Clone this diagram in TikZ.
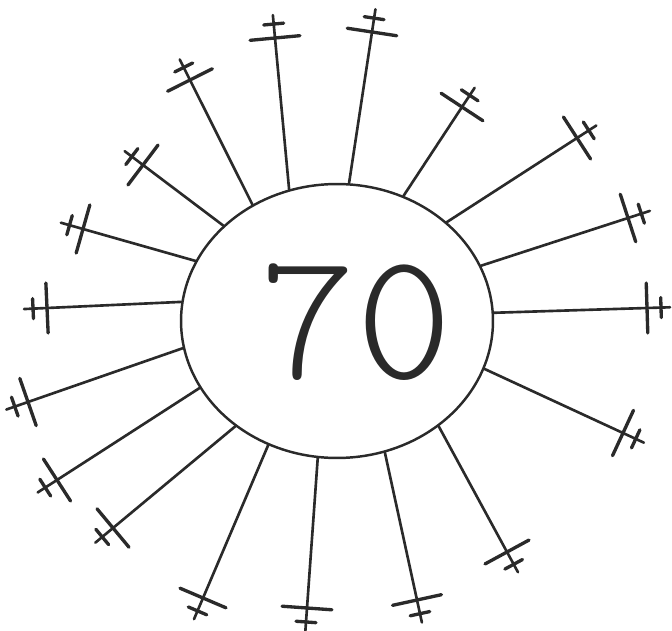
\documentclass[tikz,border=0pt]{standalone}
\usepackage{tikz}
\usetikzlibrary{calc,shapes.geometric}
\definecolor{ink}{HTML}{2A2A2A}

\begin{document}
\begin{tikzpicture}[x=0.02cm,y=-0.02cm,line cap=round,
  spoke/.style={draw=ink,line width=1.5pt},
  bar/.style={draw=ink,line width=1.9pt}]
\useasboundingbox (0,0) rectangle (672,631);
% the round face and the number
\node[ellipse,draw=ink,line width=1.4pt,minimum width=6.24cm,minimum height=5.48cm,inner sep=0pt] (sun) at (337,321) {};
\node[text=ink,font=\ttfamily\fontseries{l}\fontsize{104}{104}\selectfont] (age) at (356,322) {70};
% rays with a cross at each end
\foreach \i/\a/\x/\y in {1/110/275/38,2/85/372/32,3/62/462/107,4/42/577/138,5/21/628/218,6/3/647/308,
  7/-18/623/433,8/-46/507/552,9/-70/417/600,10/-98/307/608,11/-119/203/598,12/-134/113/528,
  13/-154/57/480,14/-170/28/402,15/173/47/308,16/157/83/229,17/140/143/165,18/126/190/80} {
  \coordinate (tip\i) at (\x,\y);
  \coordinate (knot\i) at ($(tip\i)!-0.28cm!(sun.\a)$);
  \draw[spoke] (sun.\a) -- (tip\i) -- ($(tip\i)!-0.46cm!(sun.\a)$);
  \draw[bar] ($(tip\i)!0.5cm!90:(sun.\a)$) -- ($(tip\i)!0.5cm!-90:(sun.\a)$);
  \draw[bar] ($(knot\i)!0.2cm!90:(tip\i)$) -- ($(knot\i)!0.2cm!-90:(tip\i)$);
}
\end{tikzpicture}
\end{document}
